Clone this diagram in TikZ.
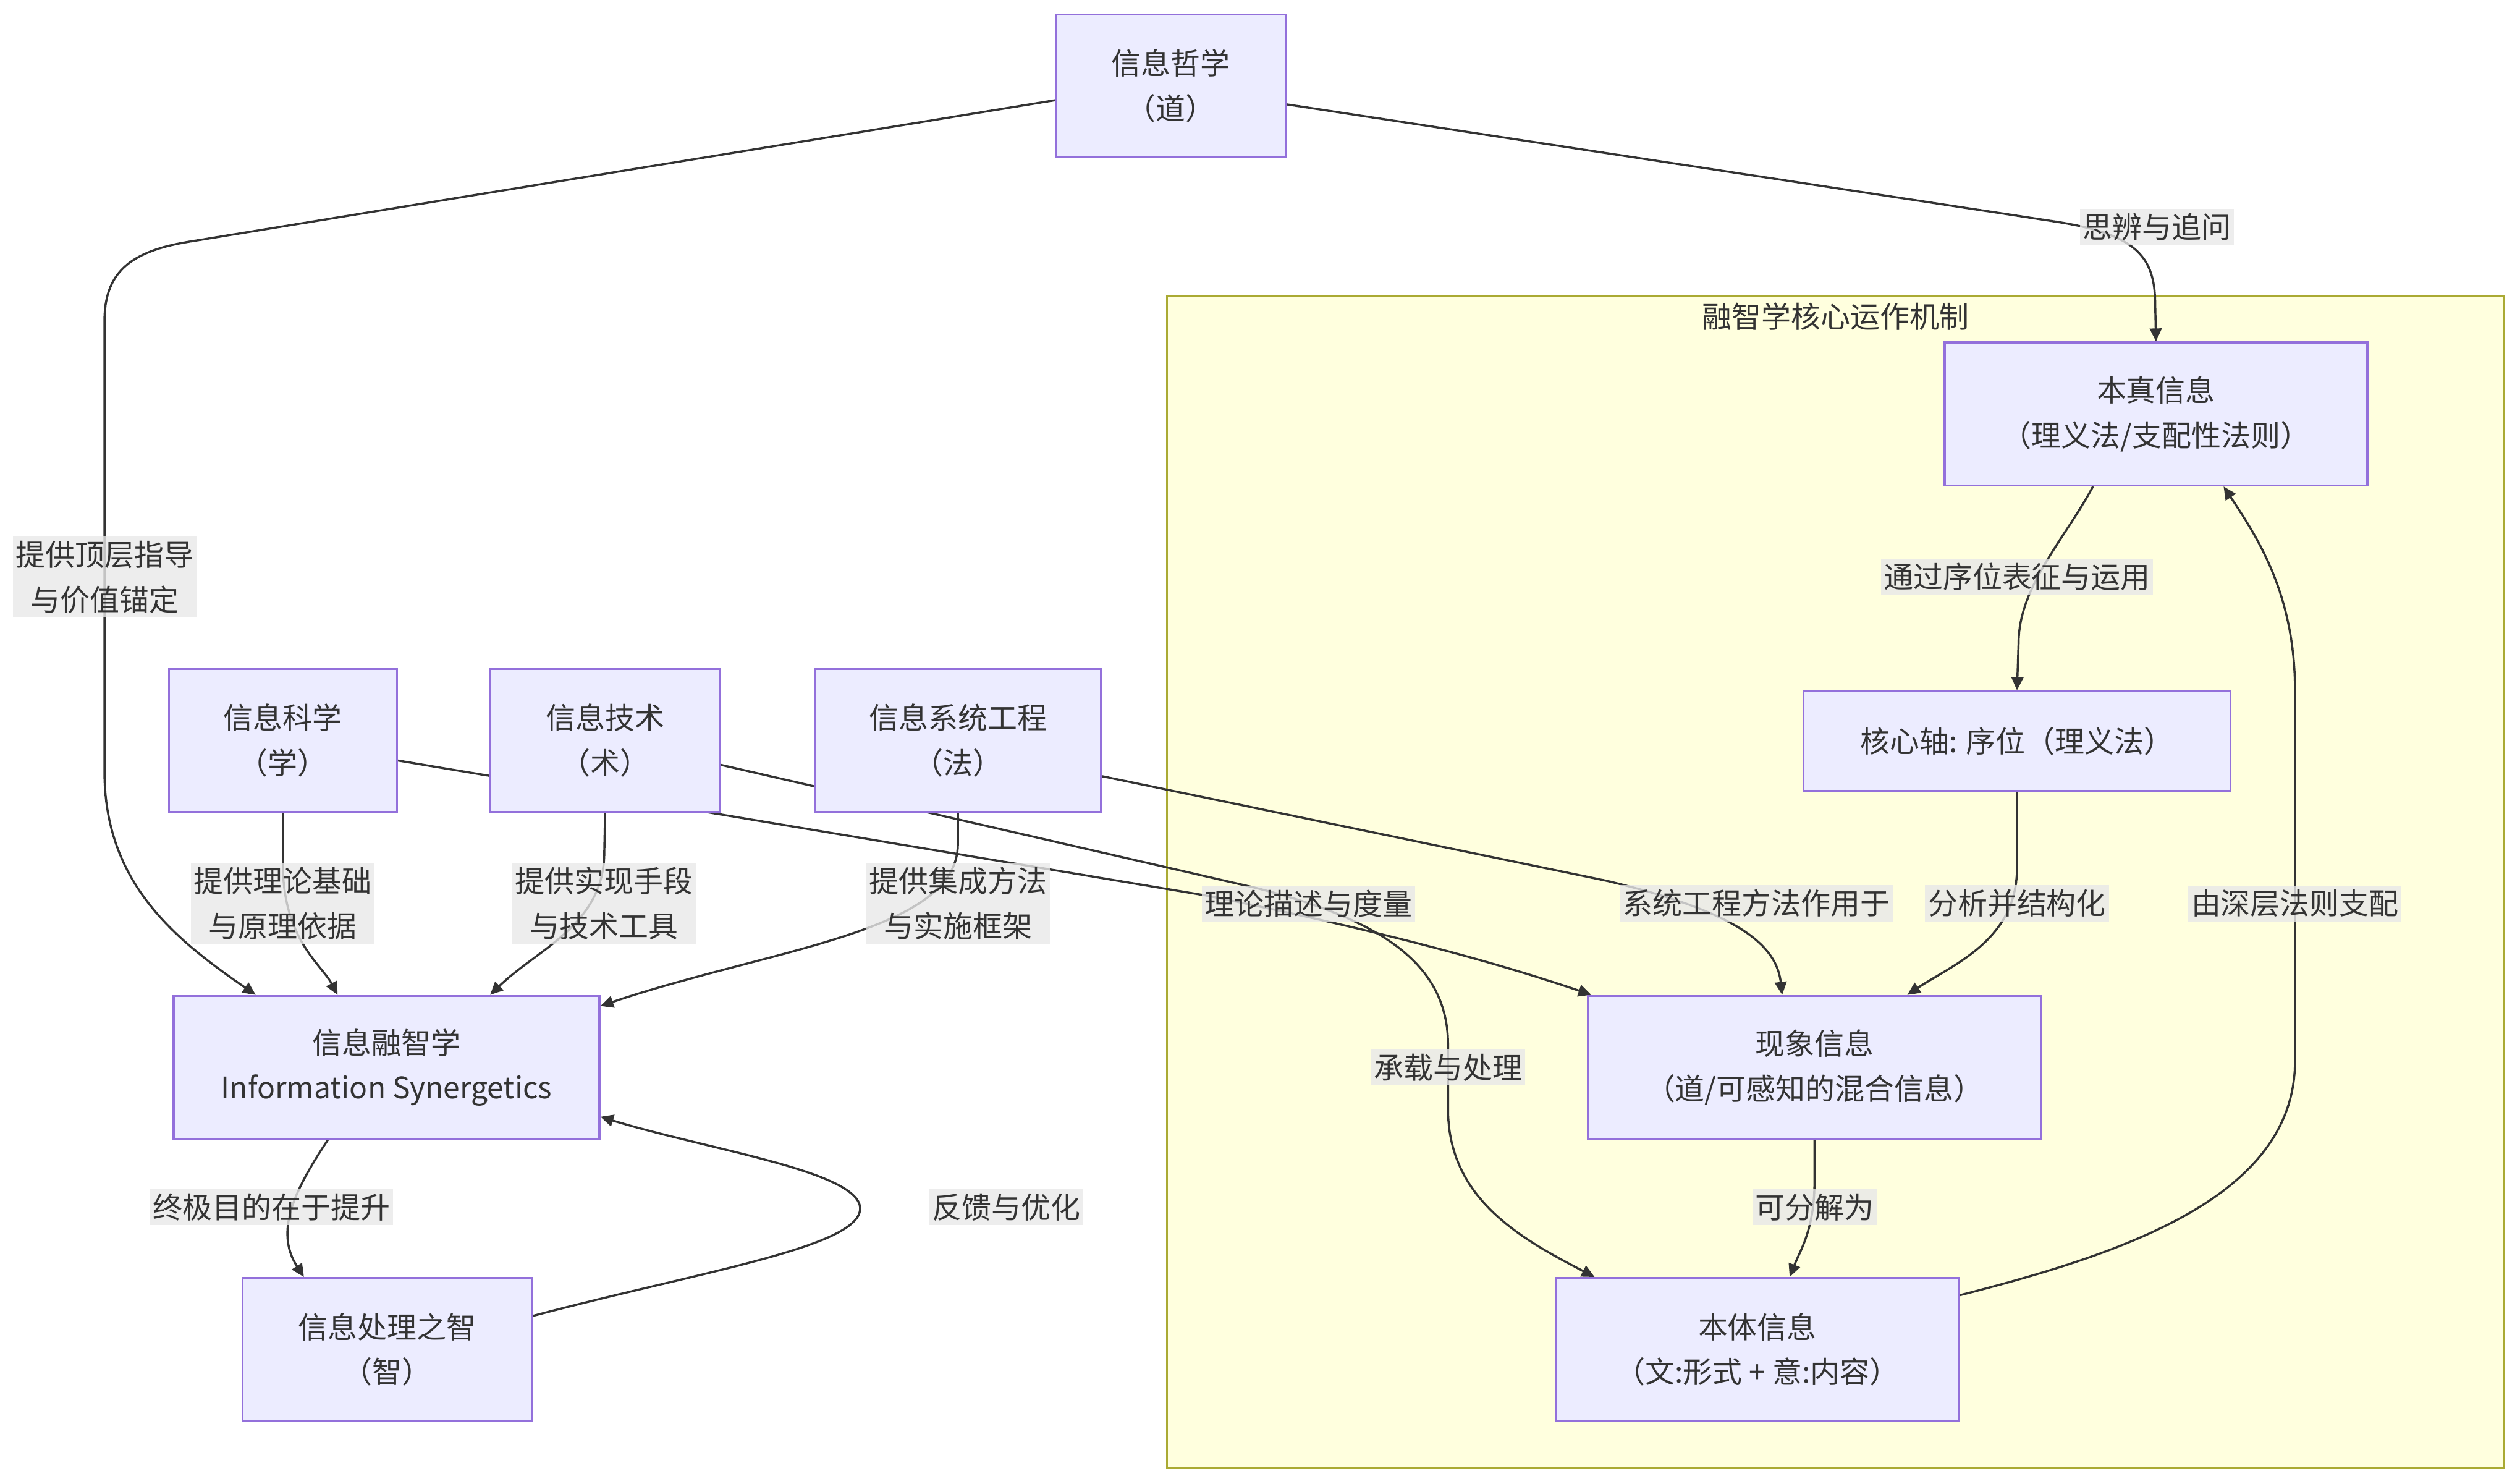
\documentclass[tikz,border=0pt]{standalone}
\usepackage{fontspec}
\setmainfont{Noto Sans CJK SC}
\usepackage{tikz}
\usetikzlibrary{arrows.meta}
\usepackage{xcolor}

\definecolor{boxfill}{HTML}{ECECFF}
\definecolor{boxline}{HTML}{9370DB}
\definecolor{clusterfill}{HTML}{FFFFDE}
\definecolor{clusterline}{HTML}{AAAA33}
\definecolor{labelfill}{HTML}{E8E8E8}
\definecolor{inkcol}{HTML}{333333}

\pgfdeclarelayer{bg}
\pgfsetlayers{bg,main}

\begin{document}
\begin{tikzpicture}[x=0.02cm, y=-0.02cm,
    every node/.style={font=\fontsize{10.5}{15.9}\selectfont, text=inkcol},
    infobox/.style={draw=boxline, fill=boxfill, line width=0.7pt, align=center, minimum height=1.78cm, inner sep=0pt},
    edgelbl/.style={fill=labelfill, fill opacity=0.8, text opacity=1, align=center, inner xsep=1pt, inner ysep=1.5pt},
    flow/.style={draw=inkcol, line width=0.75pt, -{Triangle[length=4.6pt,width=4.2pt]}}]

    \useasboundingbox (0,0) rectangle (1568,923);

    %cluster
    \begin{pgfonlayer}{bg}
        \draw [draw=clusterline, fill=clusterfill, line width=0.7pt] (726,184) rectangle (1558,913);
    \end{pgfonlayer}
    \node (cltitle) at (1142,197) {融智学核心运作机制};

    %nodes
    \node[infobox, minimum width=2.86cm] (zhexue) at (728.5,53.5) {信息哲学\\（道）};
    \node[infobox, minimum width=2.84cm] (kexue) at (176,460.5) {信息科学\\（学）};
    \node[infobox, minimum width=2.86cm] (jishu) at (376.5,460.5) {信息技术\\（术）};
    \node[infobox, minimum width=3.56cm] (xitong) at (596,460.5) {信息系统工程\\（法）};
    \node[infobox, minimum width=5.30cm] (fuse) at (240.5,664) {信息融智学\\Information Synergetics};
    \node[infobox, minimum width=3.60cm] (zhi) at (241,839.5) {信息处理之智\\（智）};
    \node[infobox, minimum width=5.26cm] (benzhen) at (1341.5,257.5) {本真信息\\（理义法/支配性法则）};
    \node[infobox, minimum width=5.32cm, minimum height=1.24cm] (hexin) at (1255,461) {核心轴: 序位（理义法）};
    \node[infobox, minimum width=5.64cm] (xianxiang) at (1129,664) {现象信息\\（道/可感知的混合信息）};
    \node[infobox, minimum width=5.02cm] (benti) at (1093.5,839.5) {本体信息\\（文:形式 + 意:内容）};

    %edges
    \begin{pgfonlayer}{bg}
        \draw[flow] (zhexue.-9) -- (1280,138) .. controls (1330,146) and (1341,160) .. (1341,190) -- (benzhen.north);
        \draw[flow] (zhexue.187) -- (120,150) .. controls (80,156) and (65,170) .. (65,200) -- (65,480) .. controls (65,550) and (110,585) .. (fuse.151);
        \draw[flow] (kexue.south) -- (176,540) .. controls (177,585) and (200,600) .. (fuse.124);
        \draw[flow] (jishu.south) -- (376,530) .. controls (376,575) and (335,590) .. (fuse.35);
        \draw[flow] (xitong.south) -- (596,525) .. controls (596,580) and (480,590) .. (fuse.16);
        \draw[flow] (kexue.-10) -- (750,557) .. controls (840,575) and (920,595) .. (xianxiang.162);
        \draw[flow] (jishu.-12) -- (780,552) .. controls (860,572) and (901,600) .. (901,650) -- (901,690) .. controls (901,745) and (945,770) .. (benti.156);
        \draw[flow] (xitong.-14) -- (1000,548) .. controls (1075,566) and (1105,585) .. (xianxiang.114);
        \draw[flow] (benzhen.229) .. controls (1285,335) and (1256,365) .. (1256,400) -- (hexin.north);
        \draw[flow] (hexin.south) -- (1255,540) .. controls (1255,585) and (1215,600) .. (xianxiang.38);
        \draw[flow] (xianxiang.south) -- (1129,735) .. controls (1129,765) and (1120,778) .. (benti.66);
        \draw[flow] (benti.15) .. controls (1320,780) and (1428,745) .. (1428,660) -- (1428,430) .. controls (1428,370) and (1405,335) .. (benzhen.-47);
        \draw[flow] (fuse.231) .. controls (185,738) and (170,765) .. (zhi.139);
        \draw[flow] (zhi.13) .. controls (440,790) and (540,775) .. (535,750) .. controls (530,728) and (440,715) .. (fuse.-13);
    \end{pgfonlayer}

    %edge labels
    \node[edgelbl] (l-sibian) at (1342,141) {思辨与追问};
    \node[edgelbl] (l-dingceng) at (65,359) {提供顶层指导\\与价值锚定};
    \node[edgelbl] (l-lilun) at (176,562) {提供理论基础\\与原理依据};
    \node[edgelbl] (l-shixian) at (376,562) {提供实现手段\\与技术工具};
    \node[edgelbl] (l-jicheng) at (596,562) {提供集成方法\\与实施框架};
    \node[edgelbl] (l-miaoshu) at (814,562) {理论描述与度量};
    \node[edgelbl] (l-chengzai) at (901,664) {承载与处理};
    \node[edgelbl] (l-xitong) at (1093,562) {系统工程方法作用于};
    \node[edgelbl] (l-xuwei) at (1255,359) {通过序位表征与运用};
    \node[edgelbl] (l-fenxi) at (1255,562) {分析并结构化};
    \node[edgelbl] (l-fenjie) at (1129,751) {可分解为};
    \node[edgelbl] (l-zhipei) at (1428,562) {由深层法则支配};
    \node[edgelbl] (l-mudi) at (169,751) {终极目的在于提升};
    \node[edgelbl] (l-fankui) at (626,751) {反馈与优化};

\end{tikzpicture}
\end{document}
